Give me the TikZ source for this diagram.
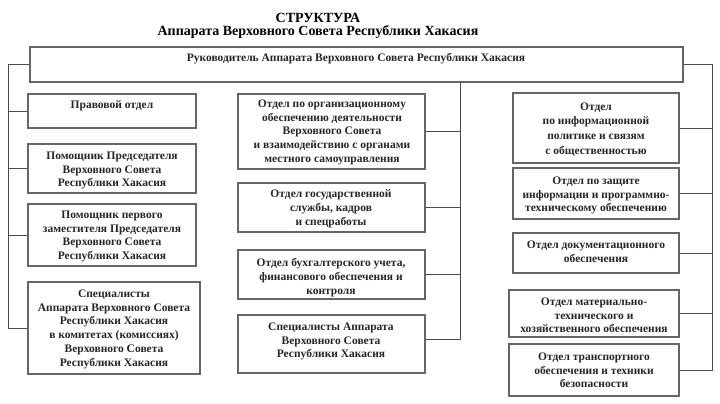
\documentclass[tikz,border=0pt]{standalone}
\usepackage{fontspec}
\setmainfont{Liberation Serif}
\begin{document}
\begin{tikzpicture}[x=1pt,y=-1pt,
  box/.style={draw=black!60, line width=1.2pt, rectangle, inner sep=0pt},
  txt/.style={font=\fontsize{11.5}{13.8}\selectfont\bfseries, align=center, inner sep=0pt, anchor=north, text=black!85, yshift=-1.5pt},
  conn/.style={draw=black!70, line width=0.8pt}]
\useasboundingbox (0,0) rectangle (720,404);
% title
\node[font=\fontsize{14}{13}\selectfont\bfseries, align=center, inner sep=0pt, anchor=north] (title) at (318,13) {СТРУКТУРА\\Аппарата Верховного Совета Республики Хакасия};
% boxes
\newcommand{\bx}[5]{\node[box, minimum width={#4-#2}, minimum height={#5-#3}] (#1) at ({(#2+#4)/2},{(#3+#5)/2}) {};}
\bx{top}{30}{47}{683}{82}
\bx{L1}{28}{94}{196}{128}
\bx{L2}{28}{144}{196}{193}
\bx{L3}{28}{204}{196}{266}
\bx{L4}{28}{282}{200}{374}
\bx{M1}{238}{94}{425}{169}
\bx{M2}{238}{183}{425}{232}
\bx{M3}{238}{250}{425}{299}
\bx{M4}{238}{315}{425}{373}
\bx{R1}{513}{93}{679}{163}
\bx{R2}{513}{168}{679}{219}
\bx{R3}{513}{233}{679}{273}
\bx{R4}{509}{290}{679}{337}
\bx{R5}{509}{344}{679}{396}
% texts
\node[txt] (ttop) at (356,52) {Руководитель Аппарата Верховного Совета Республики Хакасия};
\node[txt] (tL1) at (112,99) {Правовой отдел};
\node[txt] (tL2) at (112,150) {Помощник Председателя\\Верховного Совета\\Республики Хакасия};
\node[txt] (tL3) at (112,209) {Помощник первого\\заместителя Председателя\\Верховного Совета\\Республики Хакасия};
\node[txt] (tL4) at (114,288) {Специалисты\\Аппарата Верховного Совета\\Республики Хакасия\\в комитетах (комиссиях)\\Верховного Совета\\Республики Хакасия};
\node[txt] (tM1) at (332,98) {Отдел по организационному\\обеспечению деятельности\\Верховного Совета\\и взаимодействию с органами\\местного самоуправления};
\node[txt] (tM2) at (331,188) {Отдел государственной\\службы, кадров\\и спецработы};
\node[txt] (tM3) at (331,257) {Отдел бухгалтерского учета,\\финансового обеспечения и\\контроля};
\node[txt] (tM4) at (331,321) {Специалисты Аппарата\\Верховного Совета\\Республики Хакасия};
\node[txt, font=\fontsize{11.5}{14.6}\selectfont\bfseries] (tR1) at (596,101) {Отдел\\по информационной\\политике и связям\\с общественностью};
\node[txt] (tR2) at (596,175) {Отдел по защите\\информации и программно-\\техническому обеспечению};
\node[txt] (tR3) at (596,239) {Отдел документационного\\обеспечения};
\node[txt] (tR4) at (594,296) {Отдел материально-\\технического и\\хозяйственного обеспечения};
\node[txt] (tR5) at (594,351) {Отдел транспортного\\обеспечения и техники\\безопасности};
% connectors
\coordinate (lb) at (8,64.5);
\coordinate (mbEnd) at (460,339);
\coordinate (rb) at (712,64.5);
\draw[conn] (top.west) -- (lb) |- (L4.west);
\draw[conn] (lb |- L1.west) -- (L1.west);
\draw[conn] (lb |- L2.west) -- (L2.west);
\draw[conn] (lb |- L3.west) -- (L3.west);
\draw[conn] (top.south -| mbEnd) -- (mbEnd) -- (mbEnd -| M4.east);
\draw[conn] (M1.east) -- (M1.east -| mbEnd);
\draw[conn] (M2.east) -- (M2.east -| mbEnd);
\draw[conn] (M3.east) -- (M3.east -| mbEnd);
\draw[conn] (top.east) -- (rb) |- (R5.east);
\draw[conn] (R1.east) -- (R1.east -| rb);
\draw[conn] (R2.east) -- (R2.east -| rb);
\draw[conn] (R3.east) -- (R3.east -| rb);
\draw[conn] (R4.east) -- (R4.east -| rb);
\end{tikzpicture}
\end{document}
